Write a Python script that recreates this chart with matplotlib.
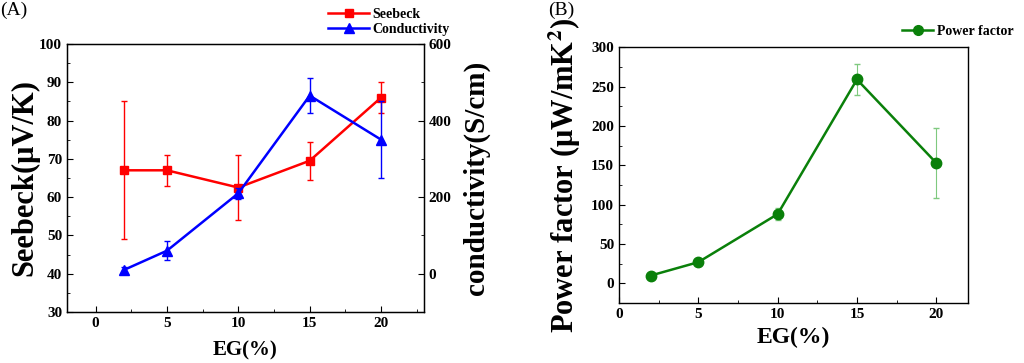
import numpy as np
from matplotlib import pyplot as plt
from matplotlib.ticker import MultipleLocator
from matplotlib.lines import Line2D

plt.rcParams['font.family'] = ['Liberation Serif', 'DejaVu Serif']
plt.rcParams['font.weight'] = 'bold'
plt.rcParams['mathtext.fontset'] = 'stix'

eg = [2, 5, 10, 15, 20]
seebeck = [67, 67, 62.5, 69.5, 86]
seebeck_err = [18, 4, 8.5, 5, 4]
cond = [10, 60, 210, 465, 350]
cond_err = [8, 25, 15, 45, 100]
pf = [10, 27, 88, 259, 153]
pf_err = [2, 3, 8, 20, 45]

fig = plt.figure(figsize=(10.24, 3.63), dpi=100)

def style(ax, xmaj, xmin, ymaj, ymin):
    ax.xaxis.set_major_locator(MultipleLocator(xmaj))
    ax.xaxis.set_minor_locator(MultipleLocator(xmin))
    ax.yaxis.set_major_locator(MultipleLocator(ymaj))
    ax.yaxis.set_minor_locator(MultipleLocator(ymin))
    ax.tick_params(which='both', direction='in', labelsize=11)
    ax.tick_params(which='major', length=4)
    ax.tick_params(which='minor', length=2)
    for s in ax.spines.values():
        s.set_linewidth(1.0)

# panel A
ax1 = fig.add_axes([0.0654, 0.1405, 0.3486, 0.7385])
ax1.errorbar(eg, seebeck, yerr=seebeck_err, color='#ff0000', marker='s', ms=6,
             lw=1.8, capsize=2.5, elinewidth=1)
ax1.set_xlim(-2, 23)
ax1.set_ylim(30, 100)
style(ax1, 5, 2.5, 10, 5)
ax1.set_xlabel('EG(%)', fontsize=15, fontweight='bold', labelpad=8)
ax1.set_ylabel('Seebeck(μV/K)', fontsize=22, fontweight='bold', labelpad=0)

ax2 = ax1.twinx()
ax2.errorbar(eg, cond, yerr=cond_err, color='#0000ff', marker='^', ms=7,
             lw=1.8, capsize=2.5, elinewidth=1)
ax2.set_ylim(-100, 600)
ax2.yaxis.set_major_locator(MultipleLocator(200))
ax2.yaxis.set_minor_locator(MultipleLocator(100))
ax2.tick_params(which='both', direction='in', labelsize=11)
ax2.tick_params(which='major', length=4)
ax2.tick_params(which='minor', length=2)
ax2.set_ylabel('conductivity(S/cm)', fontsize=21, fontweight='bold', labelpad=8)

h1 = Line2D([], [], color='#ff0000', marker='s', ms=6, lw=1.8)
h2 = Line2D([], [], color='#0000ff', marker='^', ms=7, lw=1.8)
fig.legend([h1, h2], ['Seebeck', 'Conductivity'], loc='upper left',
           bbox_to_anchor=(0.312, 1.0), frameon=False, fontsize=10,
           handlelength=3, labelspacing=0.1, borderaxespad=0.2, handletextpad=0.2)
fig.text(0.0, 0.995, '(A)', fontsize=14, fontweight='normal', va='top', ha='left')

# panel B
ax3 = fig.add_axes([0.6045, 0.165, 0.3408, 0.705])
ax3.errorbar(eg, pf, yerr=pf_err, color='#0a800a', marker='o', ms=7.5,
             lw=1.8, capsize=2, elinewidth=0.8, ecolor='#7fc97f')
ax3.set_xlim(0, 22)
ax3.set_ylim(-25, 300)
style(ax3, 5, 2.5, 50, 25)
ax3.set_xlabel('EG(%)', fontsize=17, fontweight='bold', labelpad=4)
ax3.set_ylabel('Power factor (μW/mK$^{\\mathbf{2}}$)', fontsize=22, fontweight='bold', labelpad=6)
h3 = Line2D([], [], color='#0a800a', marker='o', ms=7, lw=1.8)
fig.legend([h3], ['Power factor'], loc='upper right', bbox_to_anchor=(0.998, 0.955),
           frameon=False, fontsize=10, handlelength=2.2, borderaxespad=0.2, handletextpad=0.3)
fig.text(0.535, 0.995, '(B)', fontsize=14, fontweight='normal', va='top', ha='left')

fig.savefig('out.png', dpi=100)
